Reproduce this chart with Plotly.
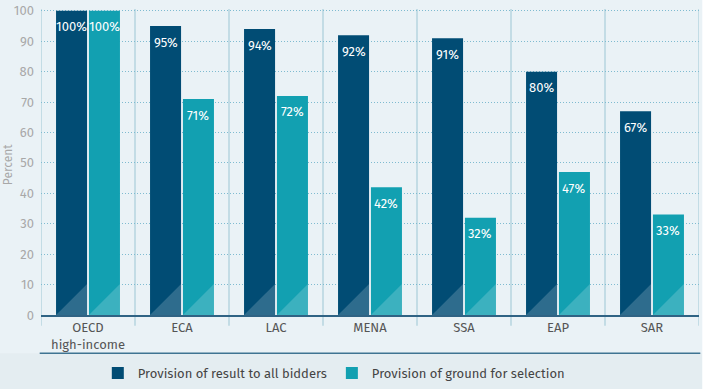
import numpy as np
import plotly.graph_objects as go

categories = ["OECD<br>high-income", "ECA", "LAC", "MENA", "SSA", "EAP", "SAR"]
result_all_bidders = [100, 95, 94, 92, 91, 80, 67]
ground_for_selection = [100, 71, 72, 42, 32, 47, 33]
series_names = ["Provision of result to all bidders", "Provision of ground for selection"]
y_ticks = [0, 10, 20, 30, 40, 50, 60, 70, 80, 90, 100]

DARK = "#014C74"
TEAL = "#12A0B1"
BG = "#EAF2F6"
FONT = "Fira Sans, Noto Sans, Open Sans, sans-serif"

xi = np.arange(len(categories))
off = 0.175
w = 0.33

fig = go.Figure()
for vals, color, name, sgn in [(result_all_bidders, DARK, series_names[0], -1),
                               (ground_for_selection, TEAL, series_names[1], 1)]:
    xs = xi + sgn * off
    fig.add_trace(go.Bar(x=xs, y=vals, width=w, marker=dict(color=color, line=dict(width=0)),
                         name=name))
    for x, v in zip(xs, vals):
        fig.add_annotation(x=x, y=v, xref="x", yref="y", text=f"{v}%", showarrow=False,
                           yanchor="middle", yshift=-16,
                           font=dict(color="white", size=13, family=FONT))
        # lighter diagonal triangle at the bottom of each bar
        fig.add_shape(type="path", xref="x", yref="y",
                      path=f"M {x - w/2} 0 L {x + w/2} 0 L {x + w/2} 10.2 Z",
                      fillcolor="rgba(255,255,255,0.18)", line=dict(width=0), layer="above")

# vertical separators between categories
for s in np.arange(-0.5, len(categories), 1.0):
    fig.add_shape(type="line", xref="x", yref="paper", x0=s, x1=s, y0=-0.035, y1=1,
                  line=dict(color="#C3DCE5", width=2), layer="below")

# lower rule and hatched footer band
fig.add_shape(type="rect", xref="paper", yref="paper", x0=-0.07, x1=1.005, y0=-0.25, y1=-0.125,
              fillcolor="#E4EDF1", line=dict(width=0), layer="below")
fig.add_shape(type="line", xref="paper", yref="paper", x0=-0.002, x1=1.002, y0=-0.125, y1=-0.125,
              line=dict(color="#3F7492", width=1.5))
fig.add_shape(type="rect", xref="paper", yref="paper", x0=1.005, x1=1.03, y0=-0.3, y1=1.05,
              fillcolor="white", line=dict(width=0), layer="below")

# y-axis title
fig.add_annotation(text="Percent", xref="paper", yref="paper", x=-0.05, y=0.49,
                   textangle=-90, showarrow=False, xanchor="center", yanchor="middle",
                   font=dict(size=12, color="#A8A8A8", family=FONT))

fig.update_layout(
    width=707, height=389,
    margin=dict(l=41, r=8, t=9, b=74, autoexpand=False),
    paper_bgcolor=BG, plot_bgcolor=BG,
    font=dict(family=FONT, color="#555555", size=13),
    barmode="overlay",
    showlegend=True,
    legend=dict(orientation="h", x=0.445, xanchor="center", y=-0.19, yanchor="middle",
                font=dict(size=13, color="#444444"), bgcolor="rgba(0,0,0,0)",
                itemwidth=30, traceorder="normal"),
    xaxis=dict(tickmode="array", tickvals=xi, ticktext=categories, range=[-0.5, len(categories) - 0.5],
               showgrid=False, zeroline=False, showline=True, linecolor="#2F6384", linewidth=1.5,
               ticks="", tickfont=dict(size=13, color="#555555"), fixedrange=True, automargin=False),
    yaxis=dict(range=[0, 100.6], tickvals=y_ticks, showgrid=True, gridcolor="#7FBBD0",
               griddash="1px,2px", gridwidth=1, zeroline=False, showline=False, automargin=False,
               tickfont=dict(size=13, color="#A8A8A8"), ticks="", ticklabelstandoff=6),
)

fig.write_html("out.html", config={"displayModeBar": False},
               post_script="document.body.style.margin='0';")
